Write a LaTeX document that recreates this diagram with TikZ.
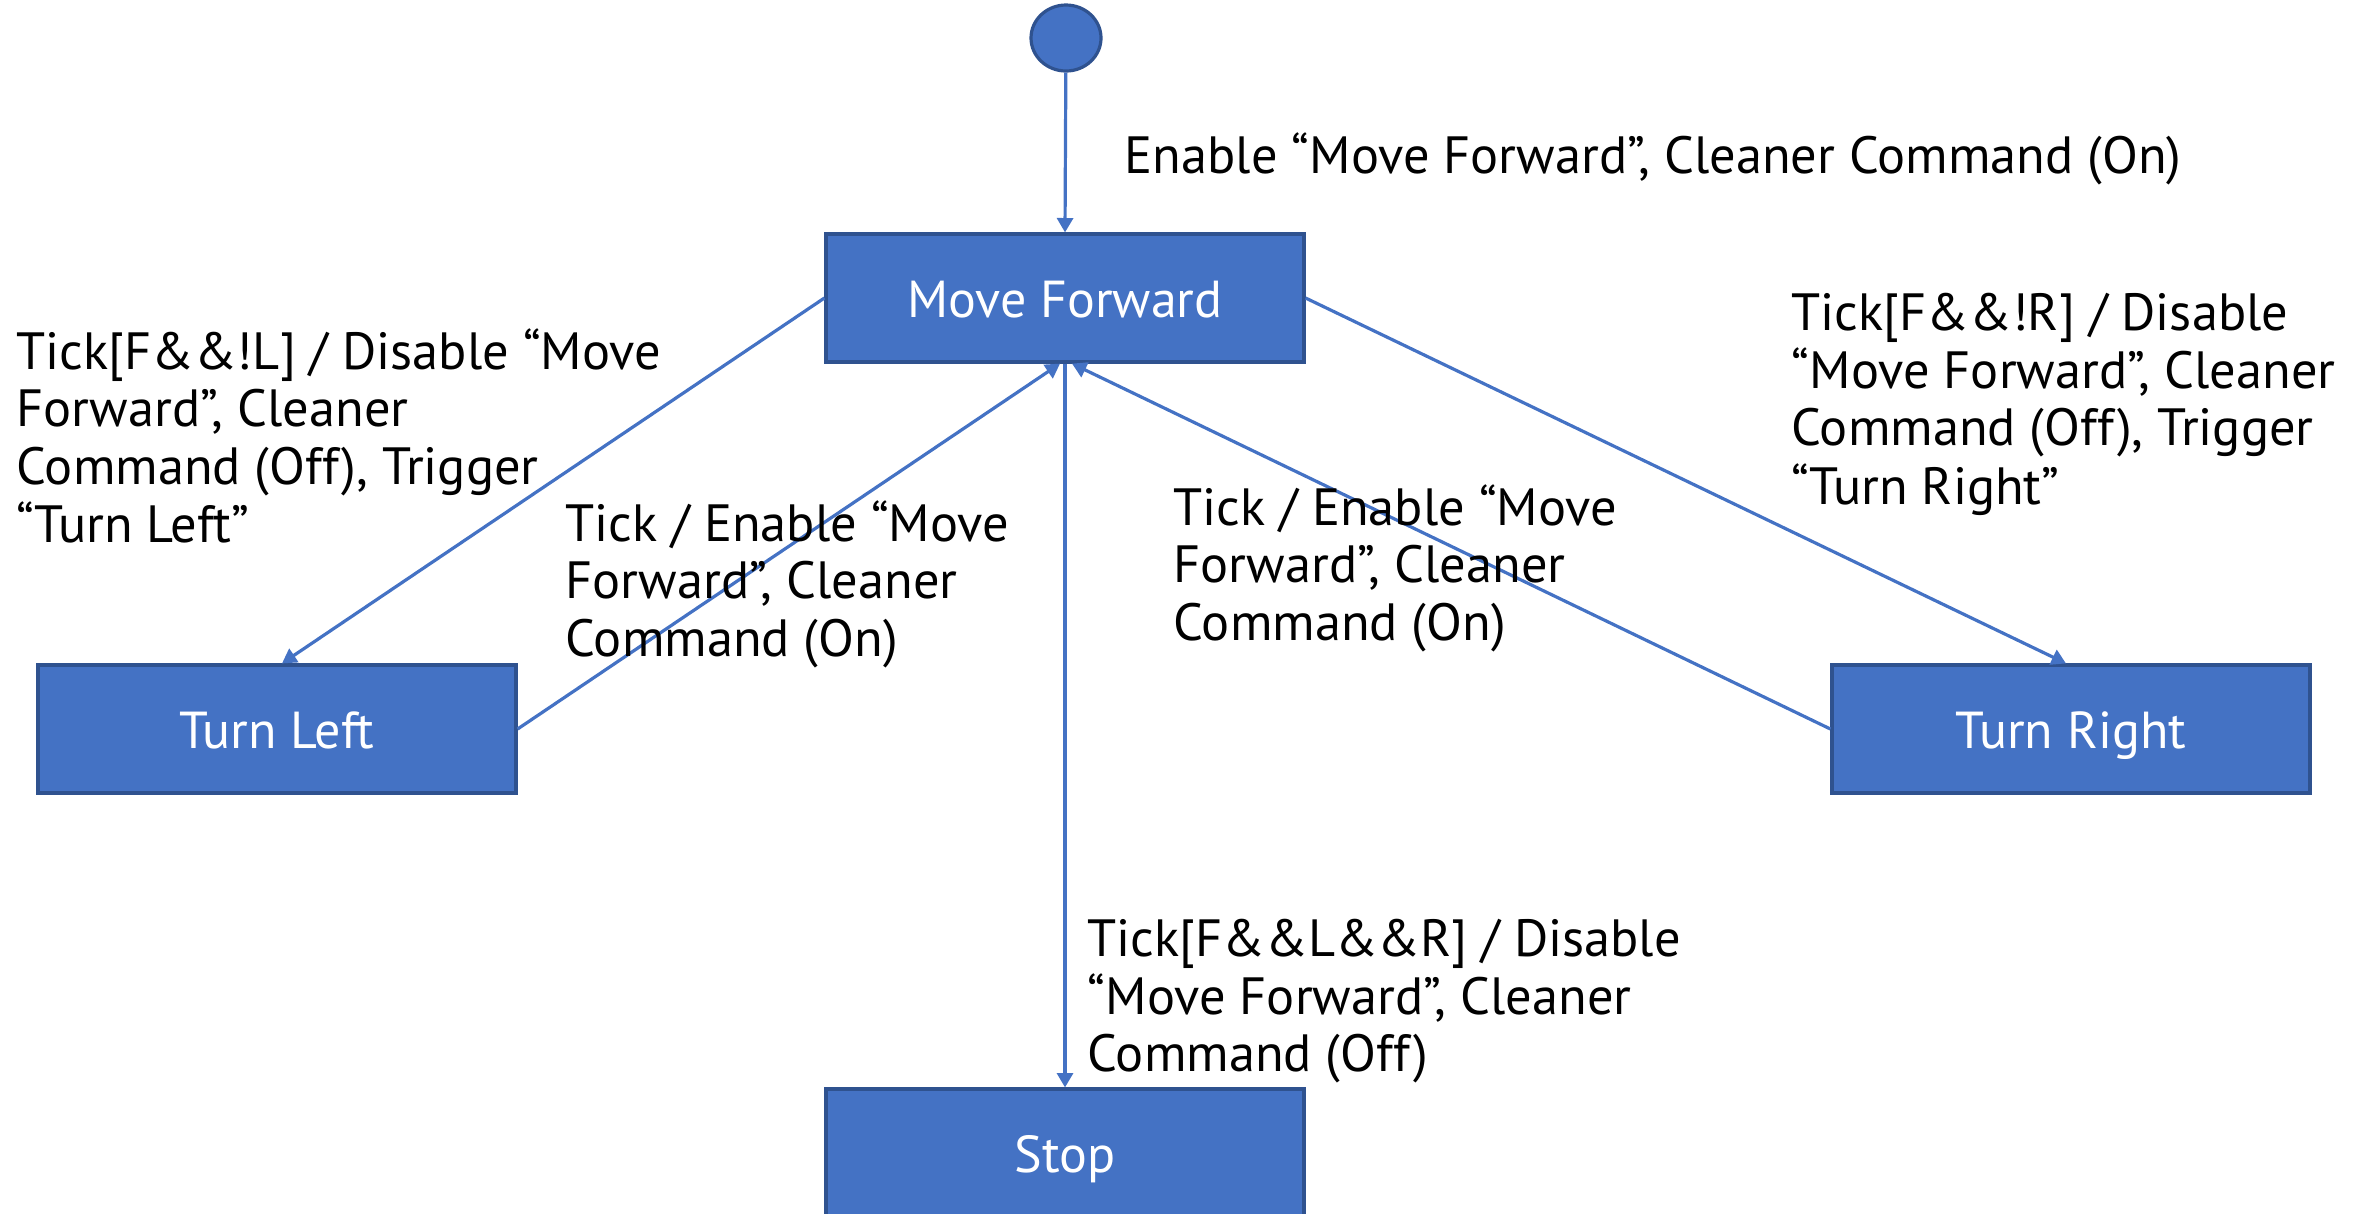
\documentclass[tikz,border=0pt]{standalone}
\usepackage{fontspec}
\setmainfont{PT Sans}
\usetikzlibrary{arrows.meta,shapes.geometric}
\definecolor{boxblue}{HTML}{4472C4}
\definecolor{boxedge}{HTML}{2F528F}
\newcommand{\lbltext}[1]{\begin{tabular}[t]{@{}l@{}}#1\end{tabular}}
\tikzset{
  statebox/.style={draw=boxedge, line width=0.8pt, fill=boxblue, text=white,
    minimum width=119.5pt, minimum height=32pt, inner sep=0pt,
    text height=9.5pt, text depth=0pt,
    font=\fontsize{13}{14.45}\selectfont},
  initstate/.style={draw=boxedge, line width=0.8pt, fill=boxblue, ellipse,
    minimum width=17.5pt, minimum height=16.5pt, inner sep=0pt},
  conn/.style={draw=boxblue, line width=0.8pt, -{Triangle[width=4pt,length=3.6pt]}},
  lbl/.style={anchor=base west, inner sep=0pt, text=black,
    font=\fontsize{13.1}{14.45}\selectfont}
}
\begin{document}
\begin{tikzpicture}[x=0.25pt, y=-0.25pt]
\useasboundingbox (0,0) rectangle (2364,1213);
\clip (0,0) rectangle (2364,1213);
% states
\node[initstate] (init) at (1066,38) {};
\node[statebox] (mf) at (1065,298) {Move Forward};
\node[statebox] (tl) at (277,729) {Turn Left};
\node[statebox] (tr) at (2071,729) {Turn Right};
\node[statebox] (stop) at (1065,1153) {Stop};
% connectors
\draw[conn] (init) -- (mf.north);
\draw[conn] (mf.west) -- ([xshift=1.25pt]tl.north);
\draw[conn] (tl.east) -- ([xshift=-1.25pt]mf.south);
\draw[conn] (tr.west) -- ([xshift=1.75pt]mf.south);
\draw[conn] (mf.east) -- ([xshift=-1.25pt]tr.north);
\draw[conn] (mf.south) -- (stop.north);
% labels
\node[lbl] (l0) at (1124,173) {\lbltext{Enable “Move Forward”, Cleaner Command (On)}};
\node[lbl] (l1) at (16,369) {\lbltext{Tick[F\&\&!L] / Disable “Move\\Forward”, Cleaner\\Command (Off), Trigger\\“Turn Left”}};
\node[lbl] (l2) at (565,541) {\lbltext{Tick / Enable “Move\\Forward”, Cleaner\\Command (On)}};
\node[lbl] (l3) at (1173,525) {\lbltext{Tick / Enable “Move\\Forward”, Cleaner\\Command (On)}};
\node[lbl] (l4) at (1791,330) {\lbltext{Tick[F\&\&!R] / Disable\\“Move Forward”, Cleaner\\Command (Off), Trigger\\“Turn Right”}};
\node[lbl] (l5) at (1087,956) {\lbltext{Tick[F\&\&L\&\&R] / Disable\\“Move Forward”, Cleaner\\Command (Off)}};
\end{tikzpicture}
\end{document}
